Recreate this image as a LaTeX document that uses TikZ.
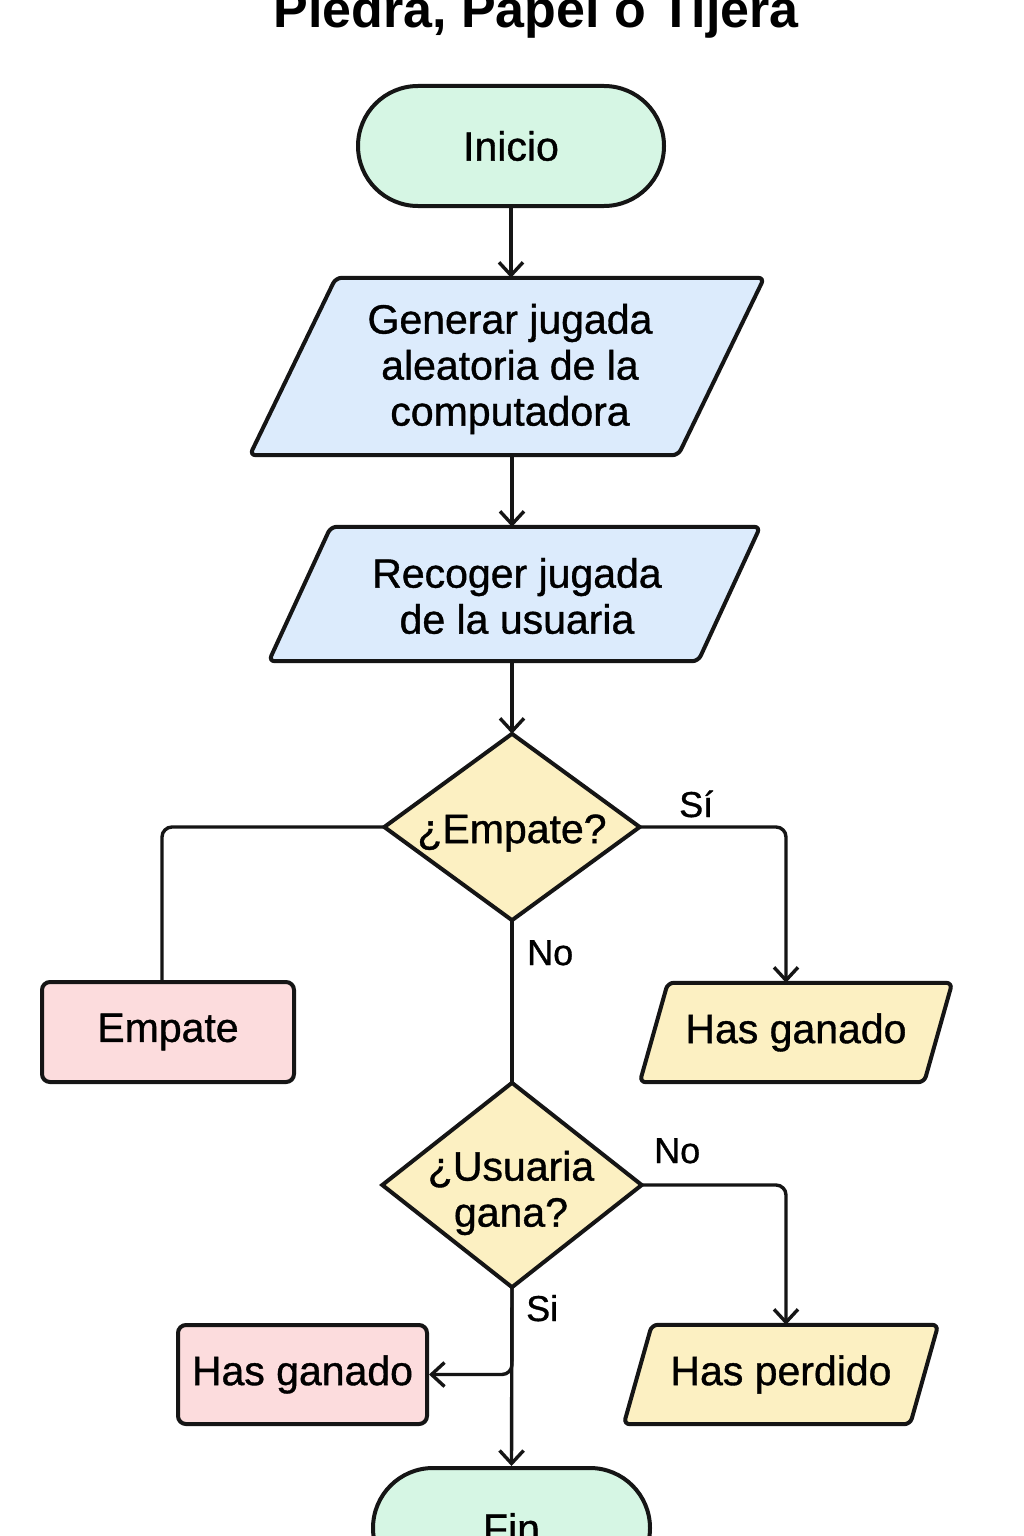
\documentclass[tikz,border=0pt]{standalone}
\usepackage{fontspec}
\setmainfont{Liberation Sans}
\newfontfamily\medfont{Liberation Sans}[FakeBold=0.9]
\usetikzlibrary{arrows.meta,backgrounds,calc}
\definecolor{linec}{HTML}{151515}
\definecolor{mint}{HTML}{D6F6E4}
\definecolor{sky}{HTML}{DCEBFC}
\definecolor{sand}{HTML}{FCF0C2}
\definecolor{rose}{HTML}{FCDCDD}
\newcommand\drawpgram[3]{%
  \begin{pgfonlayer}{background}
    \draw[shapeline, fill=#3, rounded corners=6pt]
      ($(#1.north west)+(#2,0)$) -- (#1.north east) -- ($(#1.south east)-(#2,0)$) -- (#1.south west) -- cycle;
  \end{pgfonlayer}}
\newcommand\drawdiam[2]{%
  \begin{pgfonlayer}{background}
    \draw[shapeline, fill=#2, line join=miter]
      (#1.north) -- (#1.east) -- (#1.south) -- (#1.west) -- cycle;
  \end{pgfonlayer}}
\begin{document}
\begin{tikzpicture}[x=1pt,y=-1pt,
  shapeline/.style={draw=linec, line width=4pt},
  txt/.style={font=\medfont\fontsize{41}{46}\selectfont, align=center, inner sep=0pt, text=black},
  holder/.style={txt, draw=none},
  term/.style={txt, shapeline, fill=mint, rounded corners=60pt},
  procbox/.style={txt, shapeline, fill=rose, rounded corners=8pt},
  conn/.style={draw=linec, line width=3.4pt, rounded corners=10pt},
  arr/.style={-{Straight Barb[length=13pt,width=24pt,line width=3.4pt]}},
  lbl/.style={font=\medfont\fontsize{36}{40}\selectfont, inner sep=0pt, text=black}
]
\useasboundingbox (0,0) rectangle (1024,1536);
\begin{pgfonlayer}{background}
\fill[white] (0,0) rectangle (1024,1536);
\end{pgfonlayer}

\node[font=\bfseries\fontsize{52}{60}\selectfont, inner sep=0pt, anchor=base] (title) at (536,28) {Piedra, Papel o Tijera};

\node[term, minimum width=306pt, minimum height=120pt] (ini) at (511,146) {Inicio};

\node[holder, minimum width=514pt, minimum height=177pt] (gen) at (507,366.5) {};
\node[txt] (gent) at (510,369) {Generar jugada\\ aleatoria de la\\computadora};
\drawpgram{gen}{86}{sky}

\node[holder, minimum width=491pt, minimum height=134pt] (rec) at (514.5,594) {};
\node[txt] (rect) at (517,596) {Recoger jugada\\de la usuaria};
\drawpgram{rec}{62}{sky}

\node[holder, minimum width=255pt, minimum height=186pt] (emp) at (512,827) {};
\node[txt] (empt) at (512,833) {¿Empate?};
\drawdiam{emp}{sand}

\node[procbox, minimum width=252pt, minimum height=100pt] (empbox) at (168,1032) {Empate};

\node[holder, minimum width=312pt, minimum height=99pt] (hg1) at (796,1032.5) {Has ganado};
\drawpgram{hg1}{28}{sand}

\node[holder, minimum width=259pt, minimum height=204pt] (usu) at (512,1185) {};
\node[txt] (usut) at (511,1193) {¿Usuaria\\gana?};
\drawdiam{usu}{sand}

\node[procbox, minimum width=249pt, minimum height=99pt] (hg2) at (302.5,1374.5) {Has ganado};

\node[holder, minimum width=314pt, minimum height=99pt] (hp) at (781,1374.5) {Has perdido};
\drawpgram{hp}{28}{sand}

\node[term, minimum width=277pt, minimum height=120pt] (fin) at (511.5,1528) {Fin};

% connectors
\draw[conn,arr] (ini.south) -- (ini.south |- gen.north);
\draw[conn,arr] (emp.north |- gen.south) -- (emp.north |- rec.north);
\draw[conn,arr] (emp.north |- rec.south) -- (emp.north);
\draw[conn] (emp.west) -| ($(empbox.north)+(-6,0)$);
\draw[conn,arr] (emp.east) -| ($(hg1.north)+(-10,0)$);
\draw[conn] (emp.south) -- (usu.north);
\draw[conn,arr] (usu.east) -| ($(hp.north)+(5,0)$);
\draw[conn,arr] (usu.south) -- (fin.north);
\draw[conn,arr] (usu.south) -- (usu.south |- hg2.east) -- (hg2.east);

% labels
\node[lbl, anchor=base west] (lsi1) at (679,817) {Sí};
\node[lbl, anchor=base west] (lno1) at (527,965) {No};
\node[lbl, anchor=base west] (lno2) at (654,1163) {No};
\node[lbl, anchor=base west] (lsi2) at (526,1321) {Si};
\end{tikzpicture}
\end{document}
